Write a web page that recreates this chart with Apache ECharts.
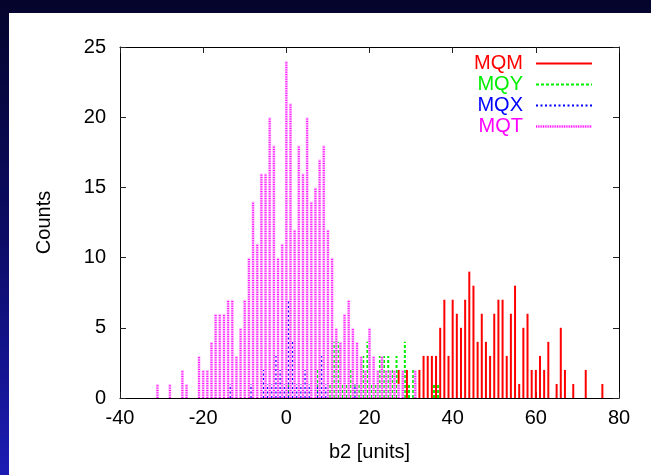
<!DOCTYPE html>
<html>
<head>
<meta charset="utf-8">
<title>b2 distribution by magnet family</title>
<script src="https://cdn.jsdelivr.net/npm/echarts@6/dist/echarts.min.js"></script>
<style>
  html, body { margin: 0; padding: 0; }
  body {
    width: 651px; height: 475px; overflow: hidden; position: relative;
    background: linear-gradient(to bottom, #04042c 0%, #0c0c66 50%, #1c1cb4 100%);
  }
  #panel { position: absolute; left: 9px; top: 13px; right: 0; bottom: 0; background: #ffffff; }
  #chart { position: absolute; left: 0; top: 0; width: 651px; height: 475px; }
</style>
</head>
<body>
<div id="panel"></div>
<div id="chart"></div>
<script>
// Histogram bins (b2 in units) and counts per magnet family
const mqmBins = [0, 14, 17, 19, 25, 27, 29, 31, 32, 33, 34, 35, 36, 37, 38, 39, 40, 41, 42, 43, 44, 45, 46, 47,
                 48, 49, 50, 51, 52, 53, 54, 55, 56, 57, 58, 59, 60, 61, 62, 63, 65, 66, 67, 69, 72, 76];
const mqmCounts = [1, 1, 1, 1, 1, 2, 2, 1, 2, 3, 3, 3, 3, 5, 7, 3, 7, 6, 5, 7, 9, 8, 4, 6,
                   4, 3, 6, 7, 7, 3, 6, 8, 1, 5, 6, 2, 2, 3, 2, 4, 1, 5, 2, 1, 2, 1];

const mqyBins = [0.5, 7.5, 10.5, 11.5, 12.5, 13.5, 14.5, 15.5, 16.5, 17.5, 18.5, 19.5, 20.5, 21.5,
                 22.5, 23.5, 24.5, 25.5, 26.5, 28.5, 29.5, 30.5, 35.5, 36.5];
const mqyCounts = [1, 2, 1, 4, 4, 1, 1, 2, 1, 1, 3, 4, 1, 1,
                   3, 3, 3, 2, 3, 4, 1, 2, 1, 1];

const mqxBins = [-13.5, -8.5, -5.5, -4.5, -3.5, -2.5, -1.5, -0.5, 0.5, 1.5, 2.5, 3.5, 4.5, 5.5, 7.5, 8.5, 9.5, 16.5];
const mqxCounts = [1, 1, 2, 1, 1, 3, 2, 1, 7, 4, 1, 1, 2, 1, 1, 3, 1, 1];

const mqtBins = [-31, -28, -25, -24, -21, -20, -19, -18, -17, -16, -15, -14, -13, -12, -11, -10, -9, -8, -7, -6,
                 -5, -4, -3, -2, -1, 0, 1, 2, 3, 4, 5, 6, 7, 8, 9, 10, 11, 12, 13, 14,
                 15, 16, 17, 18, 19, 20, 21, 22, 23, 24, 25, 26, 27, 28, 31];
const mqtCounts = [1, 1, 2, 1, 3, 2, 2, 4, 6, 6, 6, 7, 7, 3, 5, 7, 10, 14, 11, 16,
                   16, 20, 18, 10, 11, 24, 21, 12, 18, 16, 20, 14, 15, 17, 18, 12, 10, 5, 4, 6,
                   7, 5, 4, 3, 2, 5, 3, 2, 3, 2, 2, 2, 1, 2, 2];

const xRange = { min: -40, max: 80, step: 20 };
const yRange = { min: 0, max: 25, step: 5 };

const FONT = "'Liberation Sans', Arial, Helvetica, sans-serif";

// Line styles for each family. MQT is a fine dotted line: magenta dots over a pale pink core.
const families = [
  { name: 'MQM', bins: mqmBins, counts: mqmCounts, color: '#ff0000', dash: null },
  { name: 'MQY', bins: mqyBins, counts: mqyCounts, color: '#00ee00', dash: [3, 2] },
  { name: 'MQX', bins: mqxBins, counts: mqxCounts, color: '#0000ff', dash: [2, 2.5] },
  { name: 'MQT', bins: mqtBins, counts: mqtCounts, color: '#ff00ff',
    dotted: { tint: '#ffc6ff', core: 3, dotWidth: 2, dot: 1, period: 2.34 } }
];

// Impulse from p0 (on the zero line) to p1; the dotted style is built from small filled rects
function impulseShape(fam, p0, p1, horizontal) {
  if (!fam.dotted) {
    const style = { stroke: fam.color, lineWidth: 2, fill: 'none' };
    if (fam.dash) style.lineDash = fam.dash;
    return { type: 'line', shape: { x1: p0[0], y1: p0[1], x2: p1[0], y2: p1[1] }, style: style };
  }
  const d = fam.dotted;
  const children = [];
  if (horizontal) {
    children.push({ type: 'rect', shape: { x: p0[0], y: p0[1] - d.core / 2, width: p1[0] - p0[0], height: d.core },
                    style: { fill: d.tint, stroke: null } });
    for (let x = p0[0]; x + d.dot <= p1[0] + 0.01; x += d.period) {
      children.push({ type: 'rect', shape: { x: x, y: p0[1] - d.dotWidth / 2, width: d.dot, height: d.dotWidth },
                      style: { fill: fam.color, stroke: null } });
    }
  } else {
    children.push({ type: 'rect', shape: { x: p0[0] - d.core / 2, y: p1[1], width: d.core, height: p0[1] - p1[1] },
                    style: { fill: d.tint, stroke: null } });
    for (let y = p0[1]; y - d.dot >= p1[1] - 0.01; y -= d.period) {
      children.push({ type: 'rect', shape: { x: p0[0] - d.dotWidth / 2, y: y - d.dot, width: d.dotWidth, height: d.dot },
                      style: { fill: fam.color, stroke: null } });
    }
  }
  return { type: 'group', children: children };
}

function impulseSeries(fam, idx) {
  return {
    type: 'custom',
    name: fam.name,
    xAxisIndex: 0,
    yAxisIndex: 0,
    z: 3 + idx,
    clip: true,
    itemStyle: { color: fam.color },
    data: fam.bins.map((b, i) => [b, fam.counts[i]]),
    encode: { x: 0, y: 1 },
    renderItem: function (params, api) {
      const p0 = api.coord([api.value(0), 0]);
      const p1 = api.coord([api.value(0), api.value(1)]);
      return impulseShape(fam, p0, p1, false);
    }
  };
}

// Key in the top-right corner: label on the left, line sample on the right
function legendGraphics() {
  const els = [];
  const rowY = [63, 84, 105, 126];
  families.forEach((fam, i) => {
    els.push({
      type: 'text', x: 523, y: rowY[i], z: 20,
      style: { text: fam.name, fill: fam.color, font: '20px ' + FONT, align: 'right', verticalAlign: 'middle' }
    });
    const sample = impulseShape(fam, [536, rowY[i] + 0.5], [592, rowY[i] + 0.5], true);
    sample.z = 20;
    els.push(sample);
  });
  return els;
}

const axisLineStyle = { color: '#000000', width: 1 };
const tickStyle = { show: true, inside: true, length: 6, lineStyle: { color: '#222222', width: 1 } };
const labelStyle = { color: '#000000', fontSize: 20, fontFamily: FONT };

const chart = echarts.init(document.getElementById('chart'), null, { renderer: 'canvas' });
chart.setOption({
  backgroundColor: 'transparent',
  animation: false,
  grid: { left: 120, right: 32, top: 47, bottom: 77, containLabel: false },
  xAxis: [
    {
      type: 'value', position: 'bottom',
      min: xRange.min, max: xRange.max, interval: xRange.step,
      name: 'b2 [units]', nameLocation: 'middle', nameGap: 44,
      nameTextStyle: labelStyle,
      axisLine: { show: true, onZero: false, lineStyle: axisLineStyle },
      axisTick: tickStyle,
      axisLabel: Object.assign({ margin: 10 }, labelStyle),
      splitLine: { show: false }
    },
    {
      type: 'value', position: 'top',
      min: xRange.min, max: xRange.max, interval: xRange.step,
      axisLine: { show: true, onZero: false, lineStyle: axisLineStyle },
      axisTick: tickStyle,
      axisLabel: { show: false },
      splitLine: { show: false }
    }
  ],
  yAxis: [
    {
      type: 'value', position: 'left',
      min: yRange.min, max: yRange.max, interval: yRange.step,
      name: 'Counts', nameLocation: 'middle', nameGap: 66, nameRotate: 90,
      nameTextStyle: labelStyle,
      axisLine: { show: true, onZero: false, lineStyle: axisLineStyle },
      axisTick: tickStyle,
      axisLabel: Object.assign({ margin: 14 }, labelStyle),
      splitLine: { show: false }
    },
    {
      type: 'value', position: 'right',
      min: yRange.min, max: yRange.max, interval: yRange.step,
      axisLine: { show: true, onZero: false, lineStyle: axisLineStyle },
      axisTick: tickStyle,
      axisLabel: { show: false },
      splitLine: { show: false }
    }
  ],
  graphic: legendGraphics(),
  series: families.map(impulseSeries)
});
</script>
</body>
</html>
